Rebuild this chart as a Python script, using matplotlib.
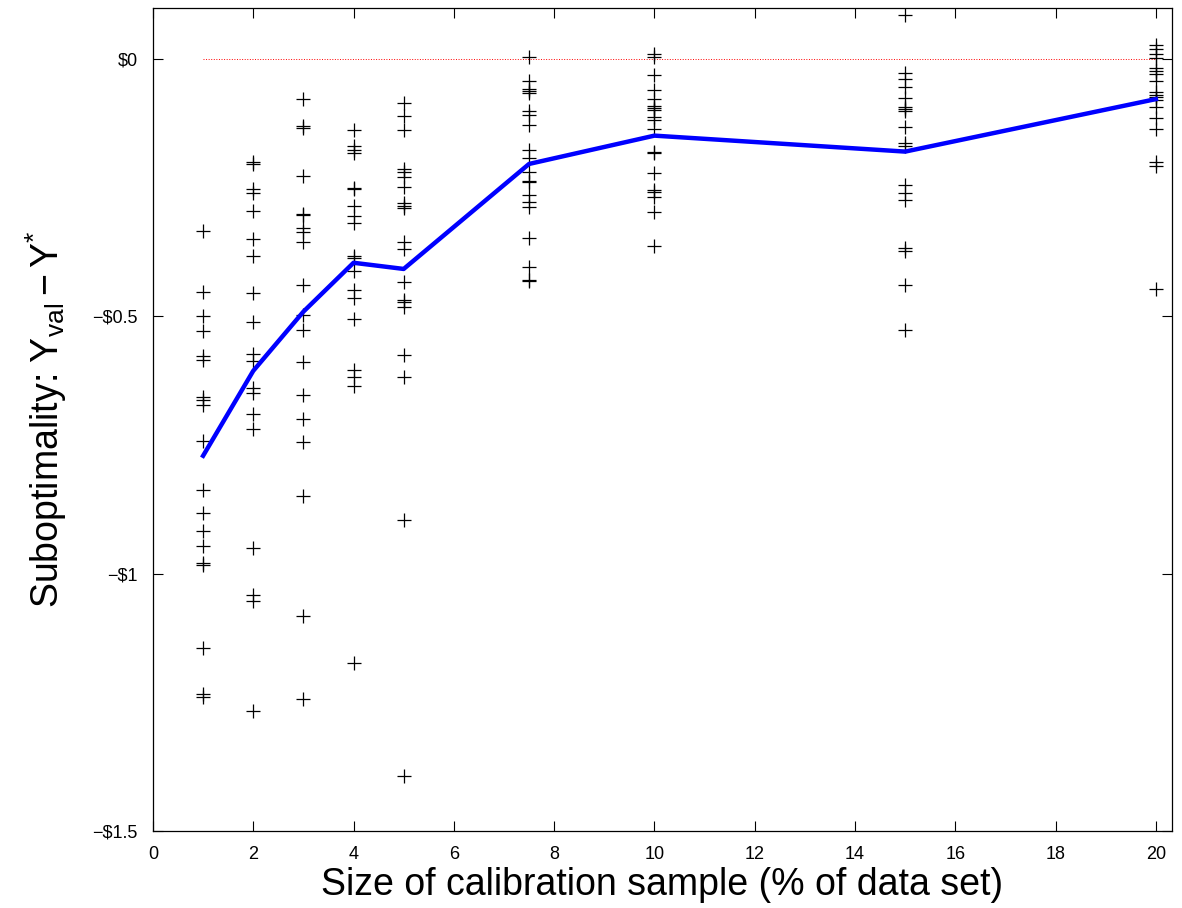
import numpy as np
import matplotlib
matplotlib.use("Agg")
import matplotlib.pyplot as plt

plt.rcParams['font.family'] = ['Liberation Sans', 'DejaVu Sans']
plt.rcParams['mathtext.fontset'] = 'custom'
plt.rcParams['mathtext.rm'] = 'Liberation Sans'
plt.rcParams['mathtext.it'] = 'Liberation Sans'
plt.rcParams['mathtext.bf'] = 'Liberation Sans:bold'

# calibration sample sizes (% of data set)
sizes = [1, 2, 3, 4, 5, 7.5, 10, 15, 20]

# suboptimality of each trial, per sample size
trials = {
    1: [-0.335, -0.452, -0.500, -0.528, -0.578, -0.584, -0.656, -0.662, -0.672, -0.743,
        -0.837, -0.882, -0.918, -0.946, -0.979, -0.984, -1.145, -1.233, -1.240],
    2: [-0.200, -0.204, -0.253, -0.261, -0.296, -0.349, -0.382, -0.455, -0.512, -0.573,
        -0.586, -0.639, -0.649, -0.690, -0.718, -0.950, -1.041, -1.054, -1.267],
    3: [-0.078, -0.131, -0.135, -0.227, -0.301, -0.304, -0.329, -0.337, -0.356, -0.439,
        -0.497, -0.526, -0.588, -0.652, -0.699, -0.745, -0.850, -1.083, -1.243],
    4: [-0.138, -0.170, -0.177, -0.182, -0.250, -0.252, -0.285, -0.306, -0.319, -0.382,
        -0.387, -0.412, -0.449, -0.465, -0.505, -0.605, -0.618, -0.636, -1.173],
    5: [-0.085, -0.110, -0.139, -0.214, -0.219, -0.230, -0.249, -0.279, -0.285, -0.290,
        -0.356, -0.370, -0.434, -0.468, -0.473, -0.481, -0.575, -0.617, -0.895, -1.393],
    7.5: [0.003, -0.043, -0.059, -0.062, -0.066, -0.102, -0.109, -0.128, -0.177, -0.192,
          -0.219, -0.237, -0.239, -0.264, -0.277, -0.288, -0.348, -0.404, -0.430, -0.432],
    10: [0.010, 0.004, -0.031, -0.060, -0.078, -0.091, -0.095, -0.099, -0.112, -0.118,
         -0.137, -0.180, -0.183, -0.222, -0.254, -0.258, -0.269, -0.298, -0.363],
    15: [0.085, -0.028, -0.039, -0.054, -0.076, -0.093, -0.097, -0.101, -0.133, -0.164,
         -0.170, -0.245, -0.261, -0.274, -0.368, -0.374, -0.439, -0.526],
    20: [0.027, 0.019, 0.010, 0.001, -0.018, -0.023, -0.029, -0.043, -0.065, -0.070,
         -0.074, -0.080, -0.094, -0.114, -0.136, -0.201, -0.208, -0.447],
}

# average suboptimality (blue line)
avg = [-0.771, -0.606, -0.491, -0.396, -0.408, -0.204, -0.149, -0.180, -0.078]

ytick_vals = [-1.5, -1.0, -0.5, 0.0]
ytick_labels = ['\u2212\\$1.5', '\u2212\\$1', '\u2212\\$0.5', '\\$0']

fig = plt.figure(figsize=(11.82, 9.08), dpi=100)
ax = fig.add_axes([0.1294, 0.0848, 0.8621, 0.9064])

ax.plot([sizes[0], sizes[-1]], [0, 0], color='red', ls=':', lw=0.7)

for s in sizes:
    vals = trials[s]
    ax.plot([s] * len(vals), vals, ls='none', marker='+', color='black',
            markersize=10, markeredgewidth=0.9)

ax.plot(sizes, avg, color='#0000ff', lw=3.2)

ax.set_xlim(0, 20.32)
ax.set_ylim(-1.5, 0.099)
ax.set_xticks(np.arange(0, 21, 2))
ax.set_yticks(ytick_vals)
ax.set_yticklabels(ytick_labels)
ax.tick_params(direction='in', length=7, width=0.8, top=True, right=True,
               labelsize=13)
ax.tick_params(axis='x', pad=11)
ax.tick_params(axis='y', pad=11)
for sp in ax.spines.values():
    sp.set_linewidth(0.9)

ax.set_xlabel('Size of calibration sample (% of data set)', fontsize=27, labelpad=3)
ax.set_ylabel(r'Suboptimality: $\mathrm{Y}_{\mathrm{val}} - \mathrm{Y}^{*}$',
              fontsize=27, labelpad=17)

fig.savefig('out.png', dpi=100)
